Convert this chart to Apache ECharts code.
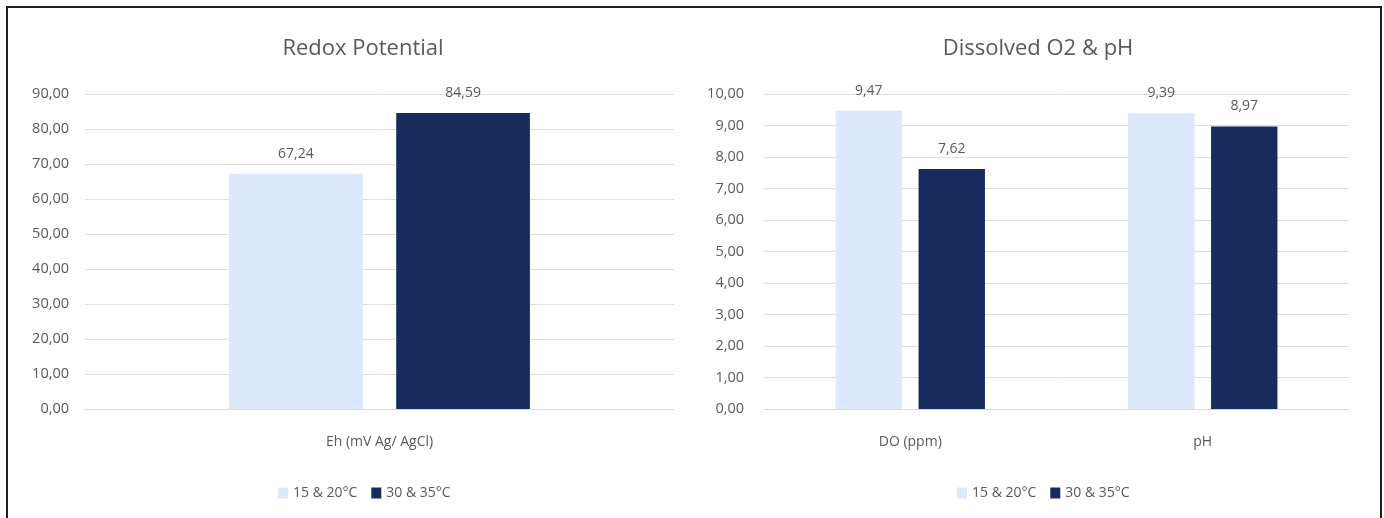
<!DOCTYPE html>
<html>
<head>
<meta charset="utf-8">
<script src="https://cdn.jsdelivr.net/npm/echarts@6/dist/echarts.min.js"></script>
<style>
html,body{margin:0;padding:0;background:#fff;}
#chart{width:1384px;height:518px;}
</style>
</head>
<body>
<div id="chart"></div>
<script>
// ---- data ----
const seriesNames = ['15 & 20°C', '30 & 35°C'];
const redoxCategories = ['Eh (mV Ag/ AgCl)'];
const redoxLow = [67.24];
const redoxHigh = [84.59];
const doCategories = ['DO (ppm)', 'pH'];
const doLow = [9.47, 9.39];
const doHigh = [7.62, 8.97];
const redoxAxisMax = 90, redoxAxisStep = 10;
const doAxisMax = 10, doAxisStep = 1;
const titles = ['Redox Potential', 'Dissolved O2 & pH'];

// ---- styles ----
const FONT = '"Open Sans", "Noto Sans", sans-serif';
const TXT = '#595959';
const LIGHT = '#dde8fb';
const DARK = '#172b5c';
const fmt = v => Number(v).toFixed(2).replace('.', ',');

const chart = echarts.init(document.getElementById('chart'), null, {renderer: 'canvas'});

function yAx(idx, max, step, margin) {
  return {
    type: 'value', gridIndex: idx, min: 0, max: max, interval: step,
    axisLine: {show: false}, axisTick: {show: false},
    axisLabel: {color: TXT, fontFamily: FONT, fontSize: 14.5, margin: margin, formatter: fmt},
    splitLine: {lineStyle: {color: '#dedede', width: 1}}
  };
}
function xAx(idx, cats) {
  return {
    type: 'category', gridIndex: idx, data: cats,
    axisLine: {lineStyle: {color: '#d9d9d9', width: 1}}, axisTick: {show: false},
    axisLabel: {color: TXT, fontFamily: FONT, fontSize: 14, margin: 26}
  };
}
function bar(name, data, idx, color) {
  return {
    type: 'bar', name: name, data: data, xAxisIndex: idx, yAxisIndex: idx,
    barWidth: '22.7%', barGap: '25%',
    itemStyle: {color: color},
    label: {show: true, position: 'top', distance: 13, color: TXT, fontFamily: FONT, fontSize: 14, formatter: p => fmt(p.value)},
    emphasis: {disabled: true}
  };
}

const legendBase = {
  data: seriesNames, top: 481, itemWidth: 10, itemHeight: 11, itemGap: 14, icon: 'rect',
  textStyle: {color: TXT, fontFamily: FONT, fontSize: 14}, selectedMode: false
};

chart.setOption({
  animation: false,
  backgroundColor: '#ffffff',
  title: [
    {text: titles[0], left: 358, top: 33, textAlign: 'center', textStyle: {color: TXT, fontFamily: FONT, fontSize: 22, fontWeight: 'normal'}},
    {text: titles[1], left: 1033, top: 33, textAlign: 'center', textStyle: {color: TXT, fontFamily: FONT, fontSize: 22, fontWeight: 'normal'}}
  ],
  legend: [
    Object.assign({}, legendBase, {left: 273}),
    Object.assign({}, legendBase, {left: 952})
  ],
  grid: [
    {left: 85, right: 710, top: 94, bottom: 109, containLabel: false},
    {left: 764, right: 35, top: 94, bottom: 109, containLabel: false}
  ],
  xAxis: [xAx(0, redoxCategories), xAx(1, doCategories)],
  yAxis: [yAx(0, redoxAxisMax, redoxAxisStep, 16), yAx(1, doAxisMax, doAxisStep, 20)],
  series: [
    bar(seriesNames[0], redoxLow, 0, LIGHT),
    bar(seriesNames[1], redoxHigh, 0, DARK),
    bar(seriesNames[0], doLow, 1, LIGHT),
    bar(seriesNames[1], doHigh, 1, DARK)
  ],
  graphic: [
    {type: 'polyline', silent: true, shape: {points: [[7, 530], [7, 7], [1381, 7], [1381, 530]]},
     style: {stroke: '#231f20', lineWidth: 2, fill: null}}
  ]
});
</script>
</body>
</html>
